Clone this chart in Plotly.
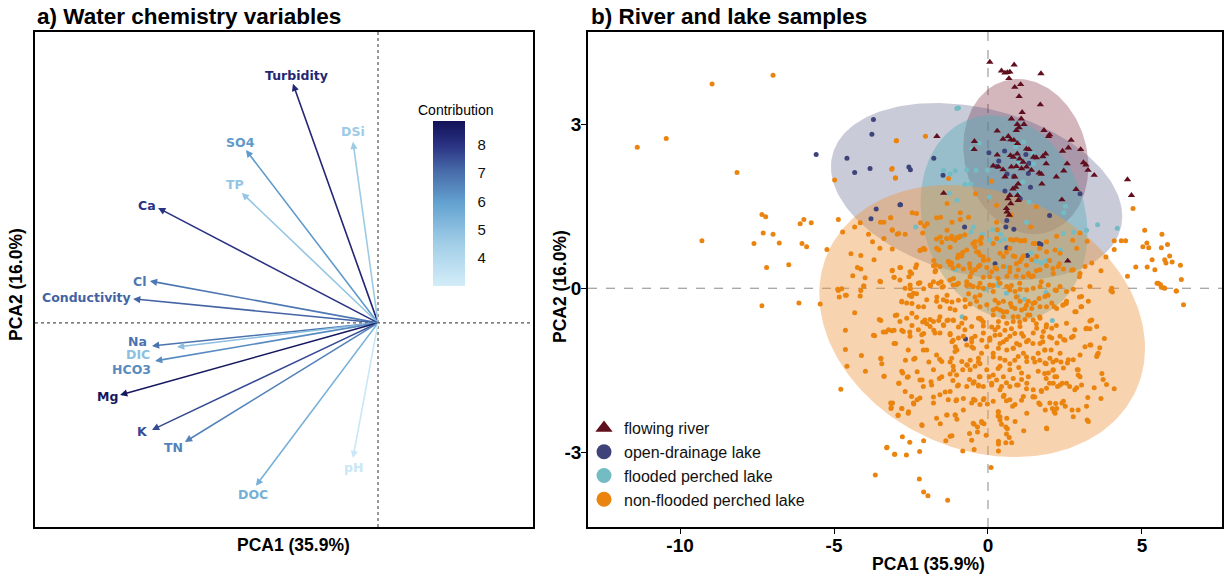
import numpy as np
import plotly.graph_objects as go
from plotly.colors import sample_colorscale

# ---------------- Panel a: variable loadings ----------------
var_names = ["Turbidity", "DSi", "SO4", "TP", "Ca", "Cl", "Conductivity", "Na",
             "DIC", "HCO3", "Mg", "K", "TN", "DOC", "pH"]
load_x = [-0.248, -0.073, -0.385, -0.397, -0.641, -0.665, -0.714, -0.659,
          -0.586, -0.650, -0.752, -0.659, -0.563, -0.356, -0.073]
load_y = [0.697, 0.528, 0.504, 0.379, 0.335, 0.122, 0.070, -0.067,
          -0.070, -0.111, -0.210, -0.312, -0.347, -0.475, -0.394]
contrib = [8.3, 4.6, 6.1, 4.8, 8.0, 6.8, 7.2, 6.9, 5.0, 6.4, 8.7, 7.6, 6.6, 5.5, 3.3]
contrib_ticks = [4, 5, 6, 7, 8]

# label offsets in pixels (dx right, dy down) relative to arrow tip
label_dx = [4, 0, -5, -7, -11, -10, -47, -14, -39, -24, -13, -9, -11, -3, 1]
label_dy = [-8, -10, -8, -8, -2, 0, -1, -4, 8, 9, 2, 2, 6, 9, 9]

# ---------------- Panel b: samples ----------------
group_names = ["flowing river", "open-drainage lake", "flooded perched lake",
               "non-flooded perched lake"]
x_ticks = [-10, -5, 0, 5]
x_tick_text = ["-10", "-5", "0", "5"]
y_ticks = [-3, 0, 3]
y_tick_text = ["-3", "0", "3"]

river_pts = [(0.06,4.14),(0.44,3.98),(0.55,3.94),(0.63,3.95),(0.71,3.96),(0.85,4.09),(1.72,3.93),
 (0.68,3.84),(0.87,3.68),(1.06,3.73),(1.01,3.51),(1.70,3.36),(1.11,3.22),(0.76,3.10),(1.08,3.10),
 (0.95,3.00),(1.17,3.00),(1.01,2.94),(0.30,2.88),(0.92,2.89),(0.66,2.78),(0.49,2.73),(0.74,2.72),
 (0.84,2.71),(0.96,2.65),(-0.44,2.69),(-0.45,2.54),(1.82,2.89),(2.00,2.81),(1.97,2.78),(2.70,2.71),
 (2.61,2.57),(2.42,2.51),(3.01,2.54),(1.25,2.55),(1.33,2.54),(1.87,2.46),(1.78,2.41),(1.57,2.39),
 (1.48,2.40),(0.95,2.46),(0.82,2.40),(0.73,2.43),(0.30,2.44),(0.17,2.24),(0.34,2.22),(0.49,2.17),
 (0.76,2.22),(0.92,2.23),(1.09,2.19),(1.25,2.22),(1.41,2.16),(1.66,2.11),(1.73,2.09),(1.89,2.28),
 (2.57,2.28),(3.10,2.30),(3.18,2.26),(3.25,2.16),(2.46,2.15),(3.45,2.07),(2.22,2.04),(1.75,1.91),
 (0.98,1.91),(0.90,1.85),(0.81,1.82),(0.71,1.70),(0.96,1.70),(0.65,1.64),(0.98,1.61),(0.74,1.55),
 (0.60,1.46),(0.62,1.40),(0.69,1.34),(2.86,1.81),(2.40,1.62),(4.53,1.99),(4.66,1.70),(-1.44,1.74),
 (-1.66,2.78),(2.59,0.50),(1.03,2.37),(1.14,2.31),(0.55,2.04),(0.87,2.04)]

open_pts = [(-3.72,3.09),(-3.77,2.82),(-5.58,2.45),(-4.58,2.38),(-4.33,2.12),(-3.83,2.19),(-2.86,1.53),
 (-3.63,1.45),(-3.80,1.27),(-1.76,2.38),(-2.57,2.22),(-2.52,2.17),(-1.46,2.07),(-2.84,1.53),(0.03,2.48),
 (0.35,2.33),(0.54,2.51),(0.62,2.09),(0.84,2.05),(1.33,2.29),(1.53,2.40),(1.31,2.10),(1.38,1.85),
 (0.55,1.78),(1.05,1.64),(2.99,1.73),(2.00,1.33),(0.61,1.24),(0.58,1.12),(0.84,1.08),(-0.76,1.12),
 (1.66,0.82),(1.72,0.80),(0.61,0.74),(1.28,0.60),(0.23,0.45),(0.28,2.23),(1.23,2.45),(-0.73,-0.93)]

flooded_pts = [(-1.01,3.29),(-0.96,3.30),(-0.28,2.66),(-0.53,2.55),(-1.44,2.16),(-1.23,2.09),(-1.06,2.15),
 (-0.69,2.17),(-0.39,2.16),(-0.02,2.16),(1.16,2.68),(0.90,2.59),(1.46,2.46),(1.48,2.28),(0.98,2.31),
 (1.14,1.95),(-0.74,1.90),(-0.56,1.91),(-1.25,1.74),(-1.01,1.61),(0.04,1.67),(0.99,1.73),(1.33,1.58),
 (2.52,1.50),(2.46,1.38),(-2.35,1.12),(-0.47,1.12),(-0.55,1.03),(-0.18,0.99),(0.15,1.07),(0.33,1.07),
 (0.41,0.99),(1.25,1.21),(3.56,1.16),(4.20,1.10),(3.20,1.06),(2.78,1.03),(2.45,1.00),(-1.57,0.89),
 (-0.82,0.95),(0.06,0.88),(0.39,0.87),(0.55,0.90),(0.82,0.87),(1.40,0.65),(2.35,0.70),(1.57,0.50),
 (1.73,0.46),(1.89,0.51),(0.28,0.38),(0.60,0.39),(-1.05,0.34),(-0.10,-0.02),(0.33,0.05),(-0.10,-0.01),
 (0.33,0.09),(0.60,-0.09),(1.19,-0.20),(1.89,-0.08),(2.09,-0.59),(-0.84,-0.52),(0.98,-0.15)]

nonflooded_pts = [
 (-8.96,3.74),(-6.98,3.90),(-10.45,2.74),(-11.39,2.58),(-8.15,2.12),(-2.98,2.70),(-3.13,2.18),(-3.01,2.02),
 (-4.98,1.98),(-7.34,1.35),(-7.22,1.31),(-6.10,1.18),(-5.98,1.26),(-5.74,1.20),(-4.86,1.26),(-7.30,1.01),
 (-6.98,0.99),(-9.29,0.87),(-7.60,0.82),(-6.78,0.83),(-6.04,0.82),(-5.89,0.76),(-5.23,0.71),(-7.19,0.38),
 (-6.47,0.43),(-4.72,1.03),(-4.33,1.12),(-4.15,1.20),(-3.88,0.99),(-3.75,0.85),(-3.49,1.21),(-3.16,1.29),
 (-3.11,1.07),(-3.38,0.91),(-3.51,0.73),(-3.11,0.72),(-2.95,0.99),(-4.45,0.63),(-4.13,0.60),(-3.70,0.52),
 (-4.24,0.38),(-4.13,0.35),(-3.99,0.19),(-4.39,0.23),(-3.51,0.13),(-3.11,0.32),(-3.05,0.20),(-2.86,0.38),
 (-4.03,0.04),(-4.86,-0.04),(-4.75,-0.01),(-4.60,-0.13),
 (-7.34,-0.32),(-6.14,-0.27),(-5.45,-0.29),(-4.88,-0.02),(-4.83,-0.16),(-4.63,-0.13),(-4.15,-0.14),
 (-4.13,-0.04),(-4.04,0.04),(-3.49,0.12),(-4.33,-0.45),(-4.63,-0.77),(-4.63,-1.12),(-4.58,-1.43),
 (-4.11,-1.23),(-3.98,-1.52),(-4.78,-1.85),(-3.72,-0.86),(-3.68,-0.87),(-3.53,-0.57),(-3.40,-0.80),
 (-3.23,-0.76),(-3.12,-0.78),(-3.05,-1.01),(-3.01,-0.50),(-3.48,-1.28),(-3.45,-1.38),(-3.37,-1.61),
 (-2.89,-1.74),(-3.10,-2.10),(-3.15,-2.20),(-2.92,-2.33),(-3.28,-2.91),(-3.03,-3.04),(-3.66,-3.42),
 (-2.97,2.70),(-2.03,2.78),(-3.11,2.19),(-3.00,2.02),(-1.28,2.01),(0.12,1.96),(-0.40,1.73),(-1.33,1.55),
 (-2.46,1.38),(-2.32,1.37),(-3.16,1.29),(-1.67,1.29),(-1.54,1.30),(-0.90,1.38),(-2.19,1.20),(-1.97,1.18),
 (-2.06,1.14),(-3.38,1.21),(-3.11,1.06),(-2.90,1.00),(-2.69,0.99),(-1.17,1.21),(-0.90,1.26),(-0.63,1.30),
 (-1.33,1.06),(-1.55,0.94),(-1.33,0.91),(-1.17,0.91),(-1.01,0.93),(-0.90,0.95),(-0.26,0.88),(-0.23,0.82),
 (-0.42,0.76),(-0.31,0.66),(-0.82,0.66),(-0.99,0.56),(-1.28,0.49),(-1.18,0.46),(-1.60,0.70),(-2.19,0.70),
 (-2.09,0.73),(-1.76,0.51),(-1.70,0.42),(-1.70,0.33),(-2.35,0.38),(-2.84,0.38),(-3.11,0.33),(-3.05,0.20),
 (-2.57,0.21),(-2.21,0.10),(-1.87,0.05),(-1.52,0.12),(-1.12,0.18),(-0.58,0.21),(-0.15,0.20),(0.30,1.07),
 (0.28,1.21),(0.73,0.89),(0.92,0.89),(1.09,0.87),(1.19,0.87),(0.60,0.66),(0.82,0.59),(1.09,0.54),
 (0.92,0.45),(0.71,0.38),(0.23,0.38),(0.06,0.21),(0.33,0.18),(0.62,0.22),(0.92,0.22),(1.33,0.24),
 (1.57,0.32),(2.11,0.36),(2.32,0.45),(2.72,0.33),(2.97,0.21),(3.22,0.86),(3.83,0.57),(3.67,0.32),
 (4.10,0.71),(4.10,0.87),(4.33,0.87),(4.47,0.87),(4.53,0.22),(4.71,1.46),(5.09,1.06),(5.03,0.76),
 (5.16,0.83),(5.22,0.74),(4.80,0.39),(5.17,0.39),(5.33,0.52),(5.42,0.34),(5.65,0.99),(5.63,0.74),
 (5.83,0.80),(5.74,0.52),(5.78,0.46),(5.90,0.59),(5.98,0.48),(6.25,0.42),(6.28,0.16),(5.53,0.09),
 (5.63,0.02),(5.74,0.00),(4.02,0.00),(6.11,-0.05),(1.52,0.82),(1.68,0.73),(2.00,0.51),(2.75,0.88),
 (0.17,0.82),(1.39,1.12),(1.57,1.49),(0.76,1.34),(0.28,1.52),(-0.49,0.82),(-0.15,0.51),(-0.60,0.45),
 (-0.26,0.42),(1.25,0.42),(1.41,0.21),
 (-2.25,0.09),(-1.87,0.05),(-2.52,-0.01),(-2.09,-0.01),(-1.49,0.02),(-1.01,0.07),(-0.69,0.05),(-0.31,0.02),
 (0.17,0.05),(0.76,0.05),(1.03,0.09),(1.73,0.12),(2.22,-0.04),(2.97,-0.16),(3.99,-0.04),(4.04,-0.07),
 (6.35,-0.30),(5.49,0.09),(5.60,0.07),(5.71,0.01),(6.12,-0.05),(-2.55,-0.13),(-2.32,-0.10),(-2.80,-0.25),
 (-2.47,-0.28),(-2.09,-0.34),(-1.66,-0.16),(-1.33,-0.13),(-1.17,-0.25),(-0.96,-0.22),(-0.63,-0.10),
 (-0.42,-0.16),(-0.26,-0.13),(-0.74,-0.34),(0.23,-0.22),(0.28,-0.37),(0.49,-0.43),(0.73,-0.28),(0.92,-0.16),
 (1.25,-0.31),(1.46,-0.28),(1.66,-0.19),(1.95,-0.13),(2.15,-0.34),(2.43,-0.31),(2.54,-0.28),(2.86,-0.43),
 (3.02,-0.34),(0.82,-0.52),(1.03,-0.62),(1.29,-0.49),(1.57,-0.65),(1.68,-0.52),(1.89,-0.71),(2.22,-0.68),
 (3.31,-0.60),(3.18,-0.74),(3.31,-0.74),(3.78,-0.92),(3.34,-1.04),(3.63,-1.09),(3.56,-1.21),(-3.48,-0.59),
 (-3.32,-0.80),(-3.05,-0.77),(-2.80,-0.77),(-2.96,-0.49),(-2.47,-0.46),(-2.12,-0.62),(-1.99,-0.65),
 (-1.76,-0.77),(-1.60,-0.59),(-1.44,-0.68),(-1.33,-0.59),(-1.12,-0.59),(-0.74,-0.55),(-0.26,-0.55),
 (-0.15,-0.62),(0.12,-0.71),(0.33,-0.71),(0.55,-0.77),(0.76,-0.74),(0.87,-0.83),(1.09,-0.83),(-2.54,-0.80),
 (-2.47,-0.68),(-2.09,-0.83),(-3.00,-1.01),(-2.14,-0.98),(-1.99,-1.13),(-1.23,-0.83),(-1.17,-0.98),
 (-1.06,-1.07),(-1.01,-1.13),(-0.69,-1.04),(-0.53,-0.92),(-0.47,-1.10),(-0.20,-0.95),(0.06,-0.95),
 (0.23,-0.86),(0.39,-1.01),(0.60,-0.94),(0.82,-1.10),(1.03,-1.04),(1.25,-0.98),(1.46,-1.01),(1.76,-0.89),
 (1.78,-0.98),(2.00,-0.89),(2.24,-1.00),(2.46,-0.94),(2.71,-0.90),(1.84,-1.13),(2.05,-1.13),(-3.48,-1.29),
 (-2.68,-1.32),(-2.41,-1.30),(-1.92,-1.35),(-1.57,-1.30),(-1.23,-1.35),(-1.12,-1.50),(-0.82,-1.49),
 (-0.67,-1.41),(-0.58,-1.32),(-0.31,-1.35),(-0.26,-1.38),(0.17,-1.26),(0.33,-1.47),(0.55,-1.32),
 (0.71,-1.38),(0.87,-1.32),(1.00,-1.45),(1.25,-1.26),(1.52,-1.35),(1.68,-1.32),(1.84,-1.56),(1.89,-1.38),
 (2.11,-1.35),(2.22,-1.32),(2.11,-1.50),(2.17,-1.62),(2.37,-1.35),(2.58,-1.37),(2.90,-1.49),(2.93,-1.59),
 (-3.38,-1.61),(-2.90,-1.74),(-2.77,-1.55),(-2.62,-1.63),(-2.30,-1.53),(-2.14,-1.68),(-1.85,-1.71),
 (-1.58,-1.65),(-1.23,-1.57),(-1.14,-1.69),(-0.99,-1.79),(-0.60,-1.67),(-0.45,-1.71),(-0.28,-1.62),
 (-0.31,-1.79),(0.04,-1.62),(0.12,-1.77),(0.28,-1.68),(0.44,-1.80),(0.60,-1.73),(0.98,-1.77),(1.09,-1.67),
 (1.25,-1.84),(1.52,-1.99),(1.73,-1.87),(1.89,-1.65),(2.00,-1.74),(2.26,-1.80),(2.41,-1.74),(2.65,-1.80),
 (2.88,-1.82),(3.45,-1.82),(3.70,-1.56),(3.74,-1.67),(3.85,-1.76),(4.10,-1.84),(3.67,-2.02),(3.24,-2.00),
 (-3.16,-2.10),(-3.14,-2.18),(-2.80,-2.20),(-2.58,-2.26),(-2.41,-2.12),(-2.30,-2.04),(-2.92,-2.32),
 (-1.77,-1.99),(-1.39,-1.90),(-1.04,-2.06),(-0.80,-2.02),(-0.47,-2.03),(-0.42,-2.05),(-0.13,-2.02),
 (-0.02,-2.12),(0.52,-1.96),(0.60,-2.06),(0.80,-2.16),(1.09,-2.05),(1.46,-1.99),(1.65,-2.10),(1.86,-2.23),
 (2.09,-2.20),(2.15,-2.26),(2.20,-2.11),(2.40,-2.10),(2.51,-2.16),(2.73,-2.23),(3.22,-2.41),(-1.33,-2.32),
 (-1.06,-2.32),(-1.01,-2.40),(0.33,-2.34),(0.39,-2.41),(0.33,-2.26),(-2.14,-2.51),(-1.55,-2.48),
 (-1.23,-2.71),(-1.17,-2.70),(-0.45,-2.49),(-0.34,-2.54),(-0.20,-2.46),(-0.13,-2.48),(0.44,-2.49),
 (0.58,-2.54),(0.63,-2.57),(1.16,-2.61),(1.91,-2.57),(-0.60,-2.66),(-0.34,-2.63),(-0.06,-2.69),(0.60,-2.67),
 (0.69,-2.73),(0.34,-2.80),(0.34,-2.85),(0.34,-2.98),(0.58,-2.83),(0.77,-2.83),(-0.53,-2.78),(-0.82,-2.98),
 (-0.45,-2.95),(-1.37,-2.79),(-2.09,-2.79),(-2.54,-2.82),(-2.78,-2.72),(-3.29,-2.92),(-3.03,-3.04),
 (-2.65,-3.05),(-2.22,-2.99),(0.10,-3.28),(-2.23,-3.49),(-2.09,-3.73),(-1.95,-3.80),(-1.31,-3.88)]

# dense core of the non-flooded perched lakes (read from the central cloud)
nonflooded_core_pts = [
 (-2.12,1.01),(-1.67,0.90),(-1.50,0.84),(-1.34,0.91),(-1.18,0.95),(-1.07,0.88),(-0.96,0.93),(-0.75,0.98),
 (-0.42,0.85),(-0.21,0.93),(0.28,0.91),(0.82,0.88),(1.04,0.87),(1.20,0.88),(1.47,0.82),(1.90,0.85),
 (2.23,0.95),(2.99,1.01),
 (-2.21,0.69),(-2.05,0.71),(-1.67,0.73),(-1.23,0.75),(-0.96,0.61),(-0.85,0.59),(-0.69,0.70),(-0.37,0.67),
 (-0.26,0.61),(-0.15,0.57),(0.01,0.52),(0.39,0.64),(0.50,0.58),(0.71,0.73),(0.88,0.58),(1.04,0.49),
 (1.15,0.59),(1.42,0.52),(1.58,0.58),(1.90,0.67),(2.18,0.70),(2.34,0.64),(2.88,0.73),
 (-2.53,0.30),(-2.48,0.27),(-2.32,0.43),(-1.77,0.41),(-1.72,0.30),(-1.56,0.40),(-1.29,0.49),(-1.23,0.43),
 (-1.13,0.37),(-0.96,0.41),(-0.80,0.35),(-0.58,0.37),(-0.53,0.29),(-0.42,0.34),(-0.31,0.40),(-0.04,0.38),
 (0.12,0.30),(0.28,0.35),(0.50,0.40),(0.71,0.30),(0.98,0.34),(1.15,0.21),(1.31,0.27),(1.47,0.23),
 (1.69,0.34),(1.90,0.41),(2.12,0.27),(2.28,0.40),(2.45,0.35),(2.77,0.34),(2.99,0.27),(3.15,0.40),(3.37,0.46),
 (-2.86,0.15),(-2.69,0.00),(-2.53,0.06),(-2.42,-0.09),(-2.26,0.09),(-1.88,0.06),(-1.77,0.12),(-1.61,0.09),
 (-1.45,0.03),(-1.23,0.15),(-1.13,0.06),(-0.96,0.09),(-0.69,0.12),(-0.58,0.06),(-0.48,0.03),(-0.26,0.09),
 (-0.15,0.00),(0.06,0.06),(0.17,-0.06),(0.39,0.09),(0.61,0.03),(0.71,-0.03),(0.88,-0.06),(1.04,-0.02),
 (1.26,-0.03),(1.47,0.00),(1.69,0.03),(1.85,-0.15),(1.96,0.06),(2.18,-0.03),(2.34,0.03),(2.55,-0.06),
 (2.77,-0.02),(3.04,-0.15),(3.31,0.03),
 (-2.80,-0.24),(-2.64,-0.27),(-2.48,-0.15),(-2.26,-0.34),(-1.99,-0.21),(-1.67,-0.24),(-1.56,-0.34),
 (-1.45,-0.21),(-1.34,-0.24),(-1.23,-0.37),(-1.07,-0.40),(-0.75,-0.21),(-0.58,-0.29),(-0.37,-0.24),
 (-0.26,-0.34),(-0.04,-0.30),(0.17,-0.40),(0.34,-0.27),(0.39,-0.40),(0.50,-0.24),(0.61,-0.43),(0.77,-0.34),
 (0.88,-0.37),(1.04,-0.24),(1.09,-0.40),(1.20,-0.37),(1.31,-0.24),(1.42,-0.37),(1.53,-0.26),(1.69,-0.34),
 (1.90,-0.34),(2.07,-0.27),(2.23,-0.37),(2.45,-0.30),(2.55,-0.24),(2.82,-0.43),(3.04,-0.34),(3.26,-0.24),
 (-2.86,-0.61),(-2.64,-0.55),(-2.32,-0.53),(-2.05,-0.58),(-1.88,-0.57),(-1.88,-0.70),(-1.77,-0.61),
 (-1.56,-0.52),(-1.45,-0.67),(-1.29,-0.58),(-1.13,-0.58),(-0.96,-0.71),(-0.85,-0.64),(-0.75,-0.76),
 (-0.53,-0.70),(-0.31,-0.55),(-0.21,-0.58),(-0.15,-0.69),(0.17,-0.49),(0.34,-0.61),(0.50,-0.52),(0.61,-0.64),
 (0.82,-0.61),(0.98,-0.52),(1.04,-0.70),(1.20,-0.57),(1.36,-0.49),(1.47,-0.58),(1.58,-0.73),(1.69,-0.55),
 (1.90,-0.67),(2.07,-0.73),(2.55,-0.64),(2.82,-0.76),(3.20,-0.73),(3.37,-0.58),(3.53,-0.70),
 (-2.75,-0.79),(-2.53,-0.88),(-2.26,-0.76),(-2.15,-0.85),(-1.72,-0.82),(-1.56,-0.82),(-1.23,-0.85),
 (-1.13,-0.95),(-0.96,-0.91),(-0.80,-0.88),(-0.53,-0.98),(-0.42,-0.88),(-0.15,-0.82),(0.06,-0.91),
 (0.23,-0.76),(0.39,-0.85),(0.50,-0.98),(0.71,-0.88),(0.93,-1.01),(1.15,-0.88),(1.31,-0.95),(1.47,-0.82),
 (1.69,-1.01),(1.80,-0.79),(2.07,-0.91),(2.34,-0.88),(2.50,-0.95),(2.77,-0.88),(3.31,-1.04),(3.58,-1.19),
 (-2.59,-1.13),(-2.10,-1.13),(-2.37,-1.28),(-1.67,-1.22),(-1.50,-1.34),(-1.18,-1.28),(-1.07,-1.16),
 (-0.85,-1.34),(-0.53,-1.07),(-0.31,-1.28),(-0.21,-1.19),(-0.04,-1.07),(0.17,-1.19),(0.34,-1.10),
 (0.39,-1.28),(0.61,-1.13),(0.82,-1.10),(0.98,-1.25),(1.15,-1.19),(1.26,-1.34),(1.47,-1.28),(1.63,-1.19),
 (1.85,-1.13),(2.01,-1.28),(2.34,-1.19),(2.61,-1.31),(2.77,-1.31),(2.99,-1.22),(3.15,-1.07),(3.53,-1.25),
 (-2.80,-1.52),(-2.59,-1.62),(-2.21,-1.68),(-1.77,-1.49),(-1.50,-1.62),(-1.13,-1.43),(-1.02,-1.59),
 (-0.69,-1.40),(-0.58,-1.49),(-0.42,-1.43),(-0.26,-1.62),(-0.04,-1.49),(0.17,-1.59),(0.39,-1.43),
 (0.50,-1.62),(0.71,-1.49),(0.82,-1.65),(1.09,-1.55),(1.31,-1.62),(1.63,-1.52),(1.85,-1.37),(1.96,-1.55),
 (2.12,-1.49),(2.23,-1.62),(2.45,-1.46),(2.93,-1.49),(2.99,-1.62),
 (-2.69,-1.89),(-2.48,-1.98),(-2.10,-1.80),(-1.83,-1.77),(-1.56,-1.95),(-1.23,-1.89),(-0.96,-1.77),
 (-0.69,-1.80),(-0.48,-1.74),(-0.31,-1.77),(-0.15,-1.80),(0.12,-1.74),(0.39,-1.86),(0.71,-1.80),
 (0.93,-1.77),(1.26,-1.74),(1.47,-1.86),(1.74,-1.89),(1.90,-1.83),(2.12,-1.74),(2.34,-1.77),(2.55,-1.74),
 (2.82,-1.86),(3.04,-1.77),
 (-2.80,-2.20),(-2.42,-2.10),(-2.21,-2.01),(-1.77,-2.10),(-1.29,-2.04),(-1.02,-2.04),(-0.80,-2.23),
 (-0.53,-2.10),(-0.26,-2.13),(-0.15,-2.04),(0.17,-2.07),(0.50,-1.98),(0.71,-2.04),(0.88,-2.13),(1.15,-1.98),
 (1.47,-1.98),(1.69,-2.13),(2.01,-2.10),(2.23,-2.20),(2.45,-2.07),(2.93,-2.23),(3.20,-2.16),
 (-2.59,-2.29),(-2.15,-2.50),(-1.67,-2.38),(-1.34,-2.32),(-1.07,-2.32),(-0.48,-2.47),(-0.21,-2.44),
 (0.34,-2.26),(0.39,-2.35),(0.61,-2.38),(0.88,-2.44),(1.26,-2.29),(1.90,-2.56),(2.18,-2.29),(2.77,-2.35),
 (3.26,-2.44)]

# confidence-ellipse parameters per group: centre, half extents, phase cosine
ell_cx = [1.23, -0.37, 0.52, -0.19]
ell_cy = [2.41, 1.77, 1.29, -0.60]
ell_hx = [2.03, 4.73, 2.71, 5.29]
ell_hy = [1.42, 1.62, 1.875, 2.49]
ell_cos = [-0.13, -0.28, -0.15, -0.20]

# ---------------- styles ----------------
cscale = [[0.0, "#d3edf8"], [0.25, "#a3cfe8"], [0.5, "#64a3d1"],
          [0.7, "#466aa8"], [0.85, "#2b3383"], [1.0, "#121258"]]
cmin, cmax = 3.0, 8.85
pt_colors = ["#600f1e", "#3e4479", "#73bcc3", "#ea840f"]
fill_colors = ["rgba(120,30,50,0.32)", "rgba(60,68,120,0.28)",
               "rgba(90,175,185,0.45)", "rgba(238,150,65,0.42)"]
symbols = ["triangle-up", "circle", "circle", "circle"]
sizes = [6.5, 5, 5, 5]

W, H = 1225, 574
L_dom = [35 / W, 533 / W]
R_dom = [588 / W, 1222 / W]
Y_dom = [1 - 527 / H, 1 - 32 / H]
CB_TOP, CB_LEN, CB_X, CB_T = 121, 165, 433, 32

fig = go.Figure()

# colorbar carrier (invisible markers at arrow tips)
fig.add_trace(go.Scatter(
    x=load_x, y=load_y, mode="markers", xaxis="x", yaxis="y", showlegend=False,
    hoverinfo="skip",
    marker=dict(size=1, opacity=0, color=contrib, colorscale=cscale, cmin=cmin, cmax=cmax,
                showscale=True,
                colorbar=dict(x=CB_X / W, xanchor="left", y=1 - (CB_TOP + CB_LEN / 2) / H,
                              yanchor="middle", thickness=CB_T, len=CB_LEN, lenmode="pixels",
                              outlinewidth=0, tickvals=contrib_ticks, ticks="outside", ticklen=10,
                              tickcolor="rgba(0,0,0,0)",
                              tickfont=dict(family="Liberation Sans, Arial", size=15, color="#111"),
                              xpad=0, ypad=0))))

arrow_cols = sample_colorscale(cscale, [(c - cmin) / (cmax - cmin) for c in contrib])

annotations = []
for name, lx, ly, col, dx, dy in zip(var_names, load_x, load_y, arrow_cols, label_dx, label_dy):
    annotations.append(dict(x=lx, y=ly, ax=0, ay=0, xref="x", yref="y", axref="x", ayref="y",
                            text="", showarrow=True, arrowhead=2, arrowsize=0.9,
                            arrowwidth=1.6, arrowcolor=col, standoff=0, startstandoff=0))
    annotations.append(dict(x=lx, y=ly, xref="x", yref="y", text="<b>%s</b>" % name,
                            showarrow=False, xanchor="center", yanchor="middle",
                            xshift=dx, yshift=-dy,
                            font=dict(family="DejaVu Sans", size=12.5, color=col)))

# ellipses
t = np.linspace(0, 2 * np.pi, 200)
for i in range(4):
    phi = np.arccos(ell_cos[i])
    ex = ell_cx[i] + ell_hx[i] * np.cos(t)
    ey = ell_cy[i] + ell_hy[i] * np.cos(t + phi)
    fig.add_trace(go.Scatter(x=ex, y=ey, mode="lines", fill="toself", fillcolor=fill_colors[i],
                             line=dict(width=0), xaxis="x2", yaxis="y2", showlegend=False,
                             hoverinfo="skip"))

# points
groups = [river_pts, open_pts, flooded_pts, nonflooded_pts + nonflooded_core_pts]
for i in [1, 2, 3, 0]:
    px = [p[0] for p in groups[i]]
    py = [p[1] for p in groups[i]]
    fig.add_trace(go.Scatter(x=px, y=py, mode="markers", xaxis="x2", yaxis="y2",
                             marker=dict(symbol=symbols[i], size=sizes[i], color=pt_colors[i],
                                         line=dict(width=0)),
                             showlegend=False, name=group_names[i]))

# legend entries
for i in range(4):
    fig.add_trace(go.Scatter(x=[None], y=[None], mode="markers", xaxis="x2", yaxis="y2",
                             name=group_names[i],
                             marker=dict(symbol=symbols[i], size=15, color=pt_colors[i])))

axis_common = dict(showgrid=False, zeroline=False, showline=True, mirror=True,
                   linecolor="black", linewidth=1.6)
tick_font = dict(family="Liberation Sans, Arial", size=19, color="black", weight="bold")

shapes = [
    dict(type="line", xref="x", yref="y domain", x0=0, x1=0, y0=0, y1=1,
         line=dict(color="#555", width=1.2, dash="dot")),
    dict(type="line", xref="x domain", yref="y", x0=0, x1=1, y0=0, y1=0,
         line=dict(color="#555", width=1.2, dash="dot")),
    dict(type="line", xref="x2", yref="y2 domain", x0=0, x1=0, y0=0, y1=1,
         line=dict(color="#8a8a8a", width=1, dash="dash"), layer="below"),
    dict(type="line", xref="x2 domain", yref="y2", x0=0, x1=1, y0=0, y1=0,
         line=dict(color="#8a8a8a", width=1, dash="dash"), layer="below"),
]
# white tick marks across the colour bar edges (ggplot style)
for v in contrib_ticks:
    ypx = CB_TOP + (cmax - v) / (cmax - cmin) * CB_LEN
    yp = 1 - ypx / H
    for x0, x1 in [(CB_X, CB_X + 6), (CB_X + CB_T - 6, CB_X + CB_T)]:
        shapes.append(dict(type="line", xref="paper", yref="paper", x0=x0 / W, x1=x1 / W,
                           y0=yp, y1=yp, line=dict(color="white", width=1)))

title_font = dict(family="Liberation Sans, Arial", size=22.5, color="black", weight="bold")
lab_font = dict(family="Liberation Sans, Arial", size=17.5, color="black", weight="bold")
annotations += [
    dict(text="a) Water chemistry variables", xref="paper", yref="paper", x=35 / W, y=1 - 17 / H,
         xanchor="left", yanchor="middle", showarrow=False, font=title_font),
    dict(text="b) River and lake samples", xref="paper", yref="paper", x=589 / W, y=1 - 17 / H,
         xanchor="left", yanchor="middle", showarrow=False, font=title_font),
    dict(text="PCA1 (35.9%)", xref="paper", yref="paper", x=293 / W, y=1 - 545 / H,
         xanchor="center", yanchor="middle", showarrow=False, font=lab_font),
    dict(text="PCA1 (35.9%)", xref="paper", yref="paper", x=928 / W, y=1 - 564 / H,
         xanchor="center", yanchor="middle", showarrow=False, font=lab_font),
    dict(text="PCA2 (16.0%)", xref="paper", yref="paper", x=16 / W, y=1 - 285 / H,
         xanchor="center", yanchor="middle", showarrow=False, textangle=-90, font=lab_font),
    dict(text="PCA2 (16.0%)", xref="paper", yref="paper", x=560 / W, y=1 - 287 / H,
         xanchor="center", yanchor="middle", showarrow=False, textangle=-90, font=lab_font),
    dict(text="Contribution", xref="paper", yref="paper", x=456 / W, y=1 - 110 / H,
         xanchor="center", yanchor="middle", showarrow=False,
         font=dict(family="Liberation Sans, Arial", size=14, color="black")),
]

fig.update_layout(
    width=W, height=H, margin=dict(l=0, r=0, t=0, b=0),
    paper_bgcolor="white", plot_bgcolor="white",
    xaxis=dict(domain=L_dom, range=[-1.0, 0.4518], showticklabels=False, ticks="",
               anchor="y", **axis_common),
    yaxis=dict(domain=Y_dom, range=[-0.595, 0.848], showticklabels=False, ticks="",
               anchor="x", **axis_common),
    xaxis2=dict(domain=R_dom, range=[-12.99, 7.60], tickvals=x_ticks, ticktext=x_tick_text,
                ticks="outside", ticklen=5, tickwidth=1.2, tickcolor="black", tickfont=tick_font,
                anchor="y2", ticklabelstandoff=-5, **axis_common),
    yaxis2=dict(domain=Y_dom, range=[-4.37, 4.69], tickvals=y_ticks, ticktext=y_tick_text,
                ticks="outside", ticklen=5, tickwidth=1.2, tickcolor="black", tickfont=tick_font,
                anchor="x2", ticklabelstandoff=-4, **axis_common),
    legend=dict(x=584 / W, y=1 - 517 / H, xanchor="left", yanchor="bottom",
                bgcolor="rgba(0,0,0,0)", traceorder="normal",
                font=dict(family="Liberation Sans, Arial", size=16, color="#111"),
                itemwidth=30, tracegroupgap=0),
    shapes=shapes,
    annotations=annotations,
)

fig.write_html("out.html")
